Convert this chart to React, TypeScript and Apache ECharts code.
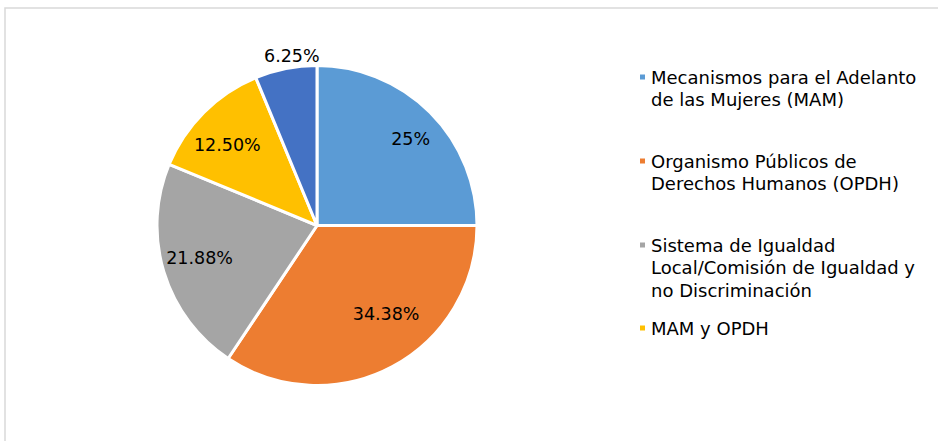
import React, { useEffect, useRef } from "react";
import * as echarts from "echarts";

const categories = [
  "Mecanismos para el Adelanto de las Mujeres (MAM)",
  "Organismo Públicos de Derechos Humanos (OPDH)",
  "Sistema de Igualdad Local/Comisión de Igualdad y no Discriminación",
  "MAM y OPDH",
  "Otros",
];
const counts = [8, 11, 7, 4, 2];
const percentLabels = ["25%", "34.38%", "21.88%", "12.50%", "6.25%"];
const colors = ["#5B9BD5", "#ED7D31", "#A5A5A5", "#FFC000", "#4472C4"];
const legendLines = [
  ["Mecanismos para el Adelanto", "de las Mujeres (MAM)"],
  ["Organismo Públicos de", "Derechos Humanos (OPDH)"],
  ["Sistema de Igualdad", "Local/Comisión de Igualdad y", "no Discriminación"],
  ["MAM y OPDH"],
];

const labelOffsets = [
  [35, -28],
  [30, 15],
  [-38, 8],
  [-31, -22],
  [-9, -88],
];
const legendTops = [43.25, 127.25, 188.75, 316.75];

const FONT = "'DejaVu Sans', sans-serif";
const LH = 22.5;

export default function App() {
  const ref = useRef<HTMLDivElement>(null);
  useEffect(() => {
    document.body.style.margin = "0";
    if (!ref.current) return;
    const chart = echarts.init(ref.current, null, { renderer: "svg" });
    const legends = legendLines.map((lines, i) => {
      const below = lines.length - 1;
      const padded = "\n".repeat(below) + lines.join("\n");
      return {
        orient: "vertical",
        left: 638,
        top: legendTops[i],
        padding: 0,
        data: [categories[i]],
        icon: "rect",
        itemWidth: 7,
        itemHeight: 7,
        selectedMode: false,
        formatter: () => padded,
        textStyle: {
          fontFamily: FONT,
          fontSize: 18,
          color: "#000",
          lineHeight: LH,
        },
      };
    });
    chart.setOption({
      animation: false,
      color: colors,
      graphic: [
        {
          type: "rect",
          z: -10,
          shape: { x: 5, y: 8, width: 1200, height: 800 },
          style: { fill: "none", stroke: "#d9d9d9", lineWidth: 1.5 },
          silent: true,
        },
      ],
      legend: legends,
      series: [
        {
          type: "pie",
          center: [317, 225.5],
          radius: 160,
          startAngle: 90,
          clockwise: true,
          avoidLabelOverlap: false,
          itemStyle: { borderColor: "#fff", borderWidth: 3 },
          label: {
            show: true,
            position: "inside",
            fontFamily: FONT,
            fontSize: 17.5,
            color: "#000",
          },
          labelLine: { show: false },
          emphasis: { disabled: true },
          data: categories.map((name, i) => ({
            name,
            value: counts[i],
            label: {
              formatter: percentLabels[i],
              offset: labelOffsets[i],
            },
          })),
        },
      ],
    });
    return () => chart.dispose();
  }, []);
  return <div ref={ref} style={{ width: 938, height: 441 }} />;
}
